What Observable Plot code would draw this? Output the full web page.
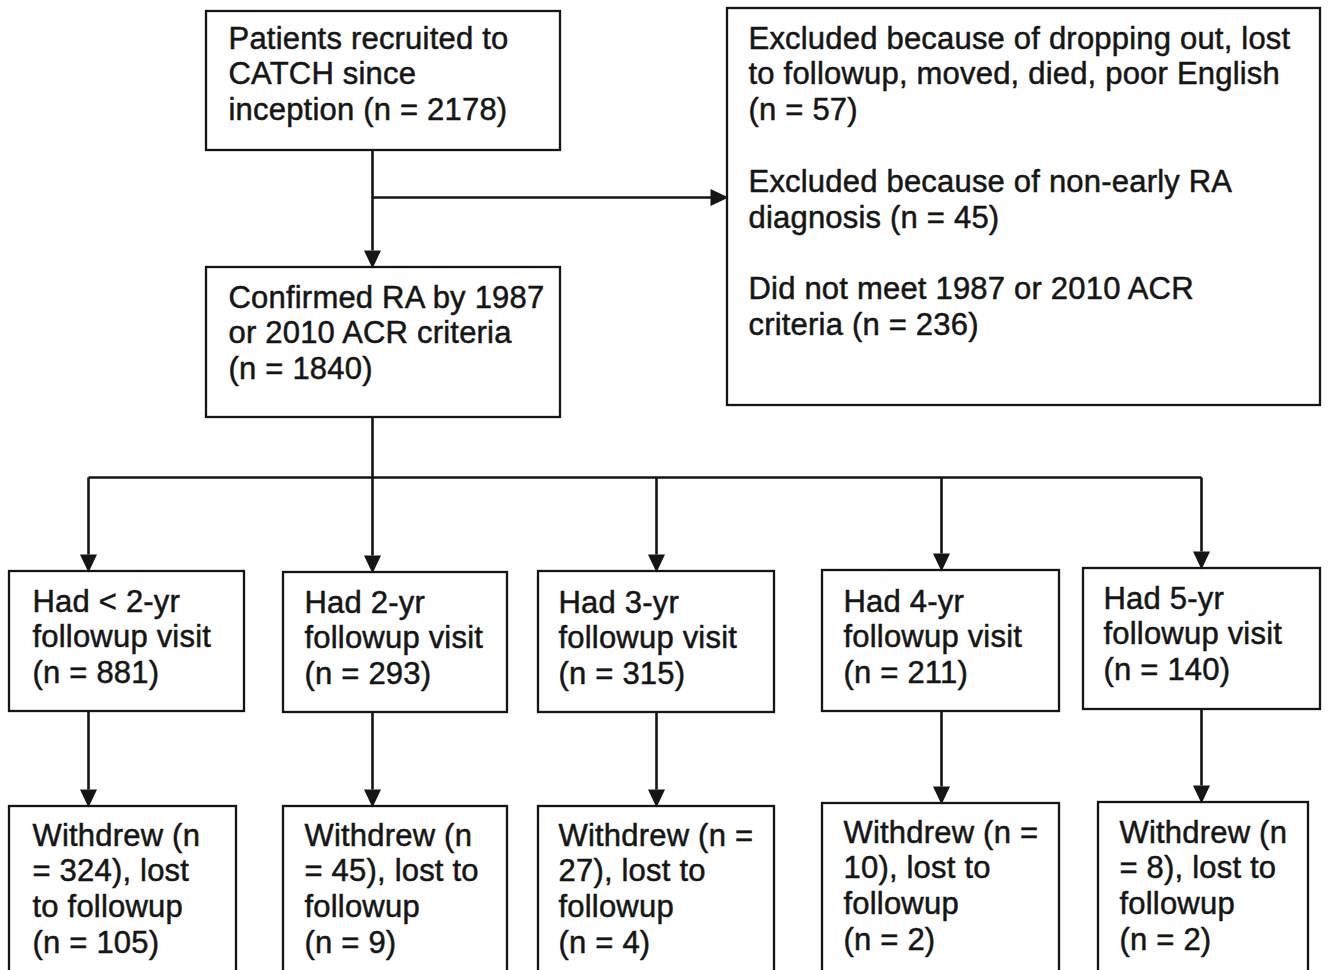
<!DOCTYPE html>
<html>
<head>
<meta charset="utf-8">
<script src="https://cdn.jsdelivr.net/npm/d3@7"></script>
<script src="https://cdn.jsdelivr.net/npm/@observablehq/plot@0.6"></script>
<style>
  html, body { margin: 0; padding: 0; background: #fff; overflow: hidden; }
  #chart svg { display: block; }
</style>
</head>
<body>
<div id="chart"></div>
<script>
const recruitedN = 2178;
const confirmedN = 1840;
const exclusionReasons = [
  "Excluded because of dropping out, lost\nto followup, moved, died, poor English\n",
  "Excluded because of non-early RA\ndiagnosis ",
  "Did not meet 1987 or 2010 ACR\ncriteria "
];
const exclusionN = [57, 45, 236];
const followupLabels = ["< 2-yr", "2-yr", "3-yr", "4-yr", "5-yr"];
const followupN = [881, 293, 315, 211, 140];
const withdrewN = [324, 45, 27, 10, 8];
const lostN = [105, 9, 4, 2, 2];

// ---- Layout (box geometry, in pixels of the 1328x970 canvas) ----
const FS = 31, LH = 1.155;
const topBoxes = [
  {id: "recruited", x1: 206, x2: 560, y1: 11, y2: 150, tx: 228, base: 48},
  {id: "excluded",  x1: 727, x2: 1320, y1: 8, y2: 405, tx: 748, base: 48},
  {id: "confirmed", x1: 206, x2: 560, y1: 267, y2: 417, tx: 228, base: 307}
];
const colX = [88, 372, 656, 941, 1201];
const row2 = [
  {x1: 9, x2: 244, y1: 571, y2: 711, tx: 32, base: 611},
  {x1: 283, x2: 507, y1: 572, y2: 712, tx: 304, base: 612},
  {x1: 538, x2: 774, y1: 571, y2: 712, tx: 558, base: 612},
  {x1: 822, x2: 1059, y1: 570, y2: 711, tx: 843, base: 611},
  {x1: 1083, x2: 1320, y1: 568, y2: 709, tx: 1103, base: 608}
];
const row3 = [
  {x1: 9, x2: 236, y1: 806, y2: 980, tx: 32, base: 845, wrap: "a"},
  {x1: 283, x2: 507, y1: 806, y2: 980, tx: 304, base: 845, wrap: "b"},
  {x1: 538, x2: 774, y1: 806, y2: 980, tx: 558, base: 845, wrap: "c"},
  {x1: 822, x2: 1059, y1: 803, y2: 980, tx: 843, base: 842, wrap: "c"},
  {x1: 1098, x2: 1308, y1: 802, y2: 980, tx: 1119, base: 842, wrap: "b"}
];
const branchY = 477;
const sideY = 197;

// ---- Build texts from the data ----
topBoxes[0].text = `Patients recruited to\nCATCH since\ninception (n = ${recruitedN})`;
topBoxes[1].text = exclusionReasons.map((r, i) => `${r}(n = ${exclusionN[i]})`).join("\n\n");
topBoxes[2].text = `Confirmed RA by 1987\nor 2010 ACR criteria\n(n = ${confirmedN})`;
row2.forEach((b, i) => { b.text = `Had ${followupLabels[i]}\nfollowup visit\n(n = ${followupN[i]})`; });
row3.forEach((b, i) => {
  const w = withdrewN[i], l = lostN[i];
  b.text = b.wrap === "a" ? `Withdrew (n\n= ${w}), lost\nto followup\n(n = ${l})`
         : b.wrap === "b" ? `Withdrew (n\n= ${w}), lost to\nfollowup\n(n = ${l})`
         : `Withdrew (n =\n${w}), lost to\nfollowup\n(n = ${l})`;
});
const allBoxes = [...topBoxes, ...row2, ...row3];

// ---- Connectors ----
const AH = 17; // arrowhead length
const segments = [
  {x1: 372, y1: topBoxes[0].y2, x2: 372, y2: topBoxes[2].y1 - AH},
  {x1: 372, y1: sideY, x2: topBoxes[1].x1 - AH + 2, y2: sideY},
  {x1: 372, y1: topBoxes[2].y2, x2: 372, y2: branchY},
  {x1: colX[0], y1: branchY, x2: colX[4], y2: branchY}
];
const heads = [
  {x: 372, y: topBoxes[2].y1, rotate: 0},
  {x: topBoxes[1].x1, y: sideY, rotate: -90}
];
colX.forEach((x, i) => {
  segments.push({x1: x, y1: branchY, x2: x, y2: row2[i].y1 - AH});
  segments.push({x1: x, y1: row2[i].y2, x2: x, y2: row3[i].y1 - AH});
  heads.push({x, y: row2[i].y1, rotate: 0});
  heads.push({x, y: row3[i].y1, rotate: 0});
});

const arrowHead = {
  draw(ctx) {
    ctx.moveTo(0, 1);
    ctx.lineTo(-8.5, -AH);
    ctx.lineTo(8.5, -AH);
    ctx.closePath();
  }
};

const ink = "#151515";
const chart = Plot.plot({
  width: 1328,
  height: 970,
  margin: 0,
  x: {domain: [0, 1328], range: [0, 1328], axis: null},
  y: {domain: [0, 970], range: [0, 970], axis: null},
  style: {background: "white", fontFamily: "'Liberation Sans', Arial, sans-serif", letterSpacing: "0.2px"},
  marks: [
    Plot.rect(allBoxes, {x1: "x1", x2: "x2", y1: "y1", y2: "y2", fill: "white", stroke: ink, strokeWidth: 2.3, inset: 0}),
    Plot.link(segments, {x1: "x1", y1: "y1", x2: "x2", y2: "y2", stroke: ink, strokeWidth: 2.6}),
    Plot.dot(heads, {x: "x", y: "y", rotate: "rotate", symbol: arrowHead, fill: ink, stroke: "none", r: 5}),
    Plot.text(allBoxes, {
      x: "tx",
      y: d => d.base - 0.71 * LH * FS,
      text: "text",
      textAnchor: "start",
      lineAnchor: "top",
      lineHeight: LH,
      fontSize: FS,
      fill: ink,
      stroke: ink,
      strokeWidth: 0.5
    })
  ]
});
document.getElementById("chart").append(chart);
</script>
</body>
</html>
